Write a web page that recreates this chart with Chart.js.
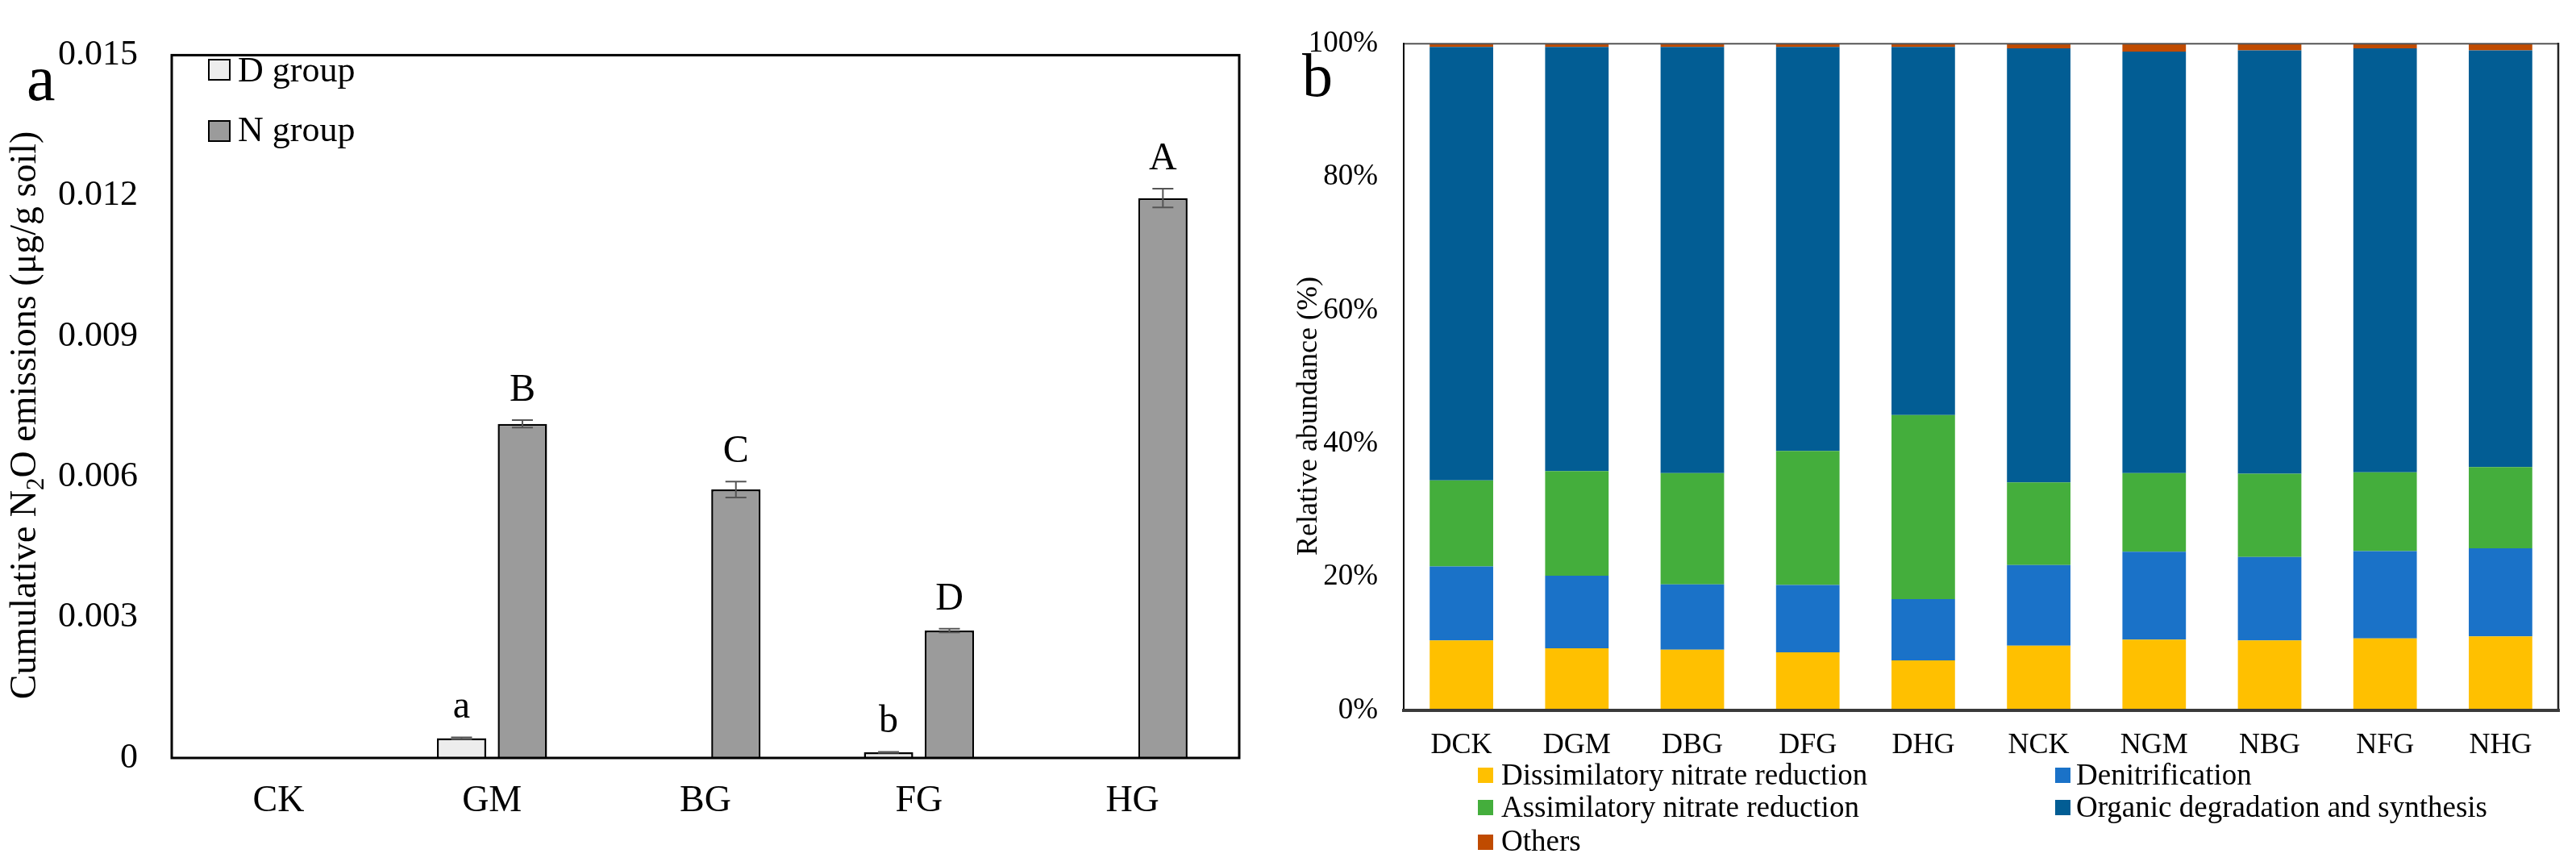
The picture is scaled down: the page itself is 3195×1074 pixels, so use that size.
<!DOCTYPE html>
<html><head><meta charset="utf-8">
<script src="https://cdn.jsdelivr.net/npm/chart.js@4.4.1/dist/chart.umd.min.js"></script>
<style>
html,body{margin:0;padding:0;background:#fff;}
#wrap{position:relative;width:3195px;height:1074px;background:#fff;}
#chartA{position:absolute;left:0;top:0;}
#chartB{position:absolute;left:1560px;top:0;}
</style></head><body>
<div id="wrap">
<canvas id="chartA" width="1560" height="1074" style="width:1560px;height:1074px"></canvas>
<canvas id="chartB" width="1635" height="1074" style="width:1635px;height:1074px"></canvas>
</div>
<script>
// ---- Panel a data ----
const treatments = ['CK', 'GM', 'BG', 'FG', 'HG'];
const dGroup     = [0, 0.00042, 0, 0.00012, 0];
const dGroupErr  = [0, 0.00002, 0, 0.00001, 0];
const nGroup     = [0, 0.00713, 0.00573, 0.00272, 0.01195];
const nGroupErr  = [0, 0.00008, 0.00017, 0.00004, 0.00020];
const dLetters   = ['', 'a', '', 'b', ''];
const nLetters   = ['', 'B', 'C', 'D', 'A'];
const yTicksA    = [0, 0.003, 0.006, 0.009, 0.012, 0.015];

// ---- Panel b data (relative abundance, %) ----
const samples        = ['DCK', 'DGM', 'DBG', 'DFG', 'DHG', 'NCK', 'NGM', 'NBG', 'NFG', 'NHG'];
const dissimilatory  = [10.5, 9.3, 9.1, 8.7, 7.5, 9.7, 10.6, 10.5, 10.8, 11.1];
const denitrification= [11.1, 10.9, 9.8, 10.1, 9.2, 12.1, 13.2, 12.5, 13.1, 13.2];
const assimilatory   = [12.9, 15.7, 16.7, 20.1, 27.6, 12.4, 11.8, 12.5, 11.8, 12.2];
const organic        = [65.0, 63.6, 63.9, 60.6, 55.2, 65.1, 63.2, 63.5, 63.6, 62.5];
const others         = [0.5, 0.5, 0.5, 0.5, 0.5, 0.7, 1.2, 1.0, 0.7, 1.0];
const yTicksB        = [0, 20, 40, 60, 80, 100];

const serif = "'Liberation Serif', 'Times New Roman', 'DejaVu Serif', serif";
Chart.defaults.font.family = serif;
Chart.defaults.color = '#000';

function drawRotatedParts(ctx, x, y, parts) {
  ctx.save();
  ctx.translate(x, y);
  ctx.rotate(-Math.PI / 2);
  let total = 0;
  parts.forEach(p => { ctx.font = p.size + 'px ' + serif; p.w = ctx.measureText(p.text).width; total += p.w; });
  let cx = -total / 2;
  ctx.textAlign = 'left';
  ctx.textBaseline = 'alphabetic';
  ctx.fillStyle = '#000';
  parts.forEach(p => { ctx.font = p.size + 'px ' + serif; ctx.fillText(p.text, cx, p.dy || 0); cx += p.w; });
  ctx.restore();
}

const panelAPlugin = {
  id: 'panelA',
  afterDatasetsDraw(chart) {
    const ctx = chart.ctx, ys = chart.scales.y;
    const errs = [dGroupErr, nGroupErr], letters = [dLetters, nLetters];
    chart.data.datasets.forEach((ds, di) => {
      const meta = chart.getDatasetMeta(di);
      meta.data.forEach((bar, i) => {
        const v = ds.data[i];
        if (!v) return;
        const e = errs[di][i];
        const yt = ys.getPixelForValue(v + e), yb = ys.getPixelForValue(v - e);
        if (e > 0) {
          ctx.save();
          ctx.strokeStyle = '#555'; ctx.lineWidth = 2;
          ctx.beginPath();
          ctx.moveTo(bar.x, yt); ctx.lineTo(bar.x, yb);
          ctx.moveTo(bar.x - 13, yt); ctx.lineTo(bar.x + 13, yt);
          ctx.moveTo(bar.x - 13, yb); ctx.lineTo(bar.x + 13, yb);
          ctx.stroke();
          ctx.restore();
        }
        const L = letters[di][i];
        if (L) {
          ctx.save();
          ctx.font = '48px ' + serif; ctx.fillStyle = '#000';
          ctx.textAlign = 'center'; ctx.textBaseline = 'alphabetic';
          ctx.fillText(L, bar.x, yt - 24);
          ctx.restore();
        }
      });
    });
  },
  afterDraw(chart) {
    const ctx = chart.ctx, a = chart.chartArea;
    ctx.save();
    ctx.strokeStyle = '#000'; ctx.lineWidth = 3;
    ctx.strokeRect(a.left, a.top, a.right - a.left, a.bottom - a.top);
    ctx.restore();
    drawRotatedParts(ctx, 44, 515, [
      {text: 'Cumulative N', size: 46},
      {text: '2', size: 31, dy: 10},
      {text: 'O emissions (\u03bcg/g soil)', size: 46}
    ]);
    ctx.save();
    ctx.font = '80px ' + serif; ctx.fillStyle = '#000';
    ctx.textAlign = 'left'; ctx.textBaseline = 'alphabetic';
    ctx.fillText('a', 33, 124);
    const boxTop = [74, 150], base = [101, 175];
    chart.data.datasets.forEach((ds, i) => {
      ctx.fillStyle = ds.backgroundColor;
      ctx.fillRect(259, boxTop[i], 26, 25);
      ctx.strokeStyle = '#000'; ctx.lineWidth = 2;
      ctx.strokeRect(259, boxTop[i], 26, 25);
      ctx.fillStyle = '#000';
      ctx.font = '44px ' + serif;
      ctx.fillText(ds.label, 295, base[i]);
    });
    ctx.restore();
  }
};

new Chart(document.getElementById('chartA'), {
  type: 'bar',
  data: {
    labels: treatments,
    datasets: [
      {label: 'D group', data: dGroup, backgroundColor: '#EDEDED', borderColor: '#000', borderWidth: 2.5,
       categoryPercentage: 0.57, barPercentage: 0.81},
      {label: 'N group', data: nGroup, backgroundColor: '#9B9B9B', borderColor: '#000', borderWidth: 2.5,
       categoryPercentage: 0.57, barPercentage: 0.81}
    ]
  },
  options: {
    responsive: false, animation: false, devicePixelRatio: 1,
    layout: {padding: {left: 0, right: 23, top: 52, bottom: 0}},
    plugins: {legend: {display: false}, tooltip: {enabled: false}},
    scales: {
      x: {
        grid: {display: false, drawTicks: false}, border: {display: false},
        ticks: {font: {size: 46}, padding: 26, color: '#000'},
        afterFit(s) { s.height = 134; }
      },
      y: {
        min: 0, max: 0.015,
        grid: {display: false, drawTicks: false}, border: {display: false},
        afterBuildTicks(s) { s.ticks = yTicksA.map(v => ({value: v})); },
        ticks: {font: {size: 44}, padding: 42, color: '#000',
                callback: v => v === 0 ? '0' : Number(v).toFixed(3)},
        afterFit(s) { s.width = 213; }
      }
    }
  },
  plugins: [panelAPlugin]
});

const panelBPlugin = {
  id: 'panelB',
  afterDraw(chart) {
    const ctx = chart.ctx, a = chart.chartArea;
    ctx.save();
    ctx.lineCap = 'square';
    ctx.strokeStyle = '#555'; ctx.lineWidth = 2;
    ctx.beginPath(); ctx.moveTo(a.left, a.top); ctx.lineTo(a.right, a.top); ctx.stroke();
    ctx.strokeStyle = '#222'; ctx.lineWidth = 2.5;
    ctx.beginPath(); ctx.moveTo(a.right, a.top); ctx.lineTo(a.right, a.bottom); ctx.stroke();
    ctx.strokeStyle = '#000'; ctx.lineWidth = 2;
    ctx.beginPath(); ctx.moveTo(a.left, a.top); ctx.lineTo(a.left, a.bottom); ctx.stroke();
    ctx.strokeStyle = '#3a3a3a'; ctx.lineWidth = 4;
    ctx.beginPath(); ctx.moveTo(a.left, a.bottom); ctx.lineTo(a.right, a.bottom); ctx.stroke();
    ctx.restore();
    drawRotatedParts(ctx, 73, 516, [{text: 'Relative abundance (%)', size: 36}]);
    ctx.save();
    ctx.font = '76px ' + serif; ctx.fillStyle = '#000';
    ctx.textAlign = 'left'; ctx.textBaseline = 'alphabetic';
    ctx.fillText('b', 55, 119);
    const colBox = [273, 989], colText = [302, 1015], rowBase = [973, 1013, 1055], boxTop = [952, 992, 1035];
    chart.data.datasets.forEach((ds, i) => {
      const c = i % 2, r = Math.floor(i / 2);
      ctx.fillStyle = ds.backgroundColor;
      ctx.fillRect(colBox[c], boxTop[r], 19, 19);
      ctx.fillStyle = '#000';
      ctx.font = '37px ' + serif;
      ctx.fillText(ds.label, colText[c], rowBase[r]);
    });
    ctx.restore();
  }
};

new Chart(document.getElementById('chartB'), {
  type: 'bar',
  data: {
    labels: samples,
    datasets: [
      {label: 'Dissimilatory nitrate reduction', data: dissimilatory, backgroundColor: '#FFC000'},
      {label: 'Denitrification', data: denitrification, backgroundColor: '#1A72C8'},
      {label: 'Assimilatory nitrate reduction', data: assimilatory, backgroundColor: '#44AE3C'},
      {label: 'Organic degradation and synthesis', data: organic, backgroundColor: '#025D94'},
      {label: 'Others', data: others, backgroundColor: '#C04B00'}
    ]
  },
  options: {
    responsive: false, animation: false, devicePixelRatio: 1,
    layout: {padding: {left: 0, right: 22, top: 36, bottom: 0}},
    datasets: {bar: {categoryPercentage: 0.55, barPercentage: 1, borderWidth: 0}},
    plugins: {legend: {display: false}, tooltip: {enabled: false}},
    scales: {
      x: {
        stacked: true,
        grid: {display: false, drawTicks: false}, border: {display: false},
        ticks: {font: {size: 36}, padding: 22, color: '#000'},
        afterFit(s) { s.height = 193; }
      },
      y: {
        stacked: true, min: 0, max: 100,
        grid: {display: false, drawTicks: false}, border: {display: false},
        afterBuildTicks(s) { s.ticks = yTicksB.map(v => ({value: v})); },
        ticks: {font: {size: 37}, padding: 32, color: '#000', callback: v => v + '%'},
        afterFit(s) { s.width = 181; }
      }
    }
  },
  plugins: [panelBPlugin]
});
</script>
</body></html>
